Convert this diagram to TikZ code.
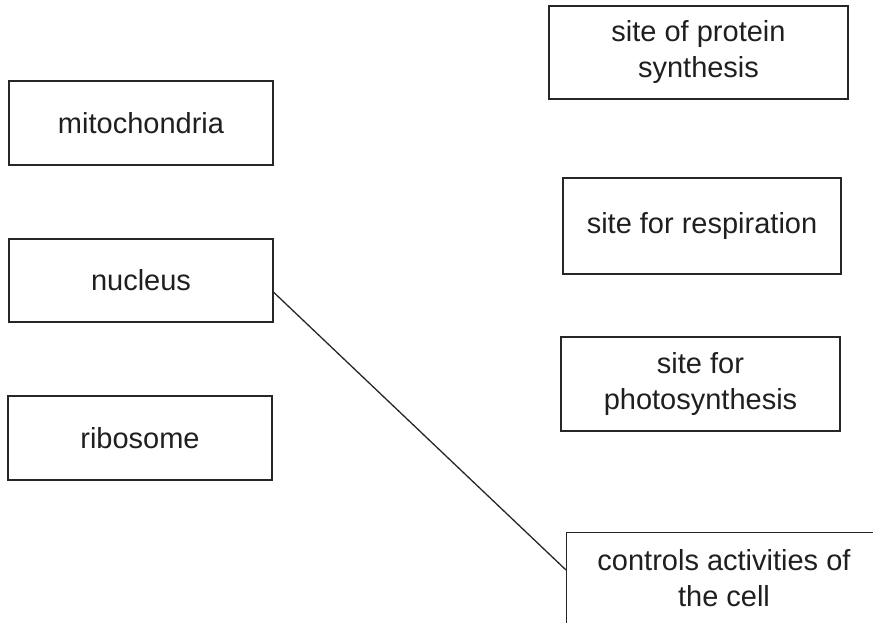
\documentclass[tikz,border=0pt]{standalone}
\usepackage{fontspec}
\setmainfont{Liberation Sans}
\usetikzlibrary{calc}
\begin{document}
\begin{tikzpicture}[x=1pt,y=-1pt,
  box/.style={draw=black!85,line width=1.4pt,inner sep=0pt,align=center,
    font=\fontsize{29}{36}\selectfont,text=black!88},
  link/.style={draw=black!85,line width=1.3pt}]
\useasboundingbox (0,0) rectangle (873,623);
\clip (0,0) rectangle (873,623);
% terms on the left
\node[box,minimum width=264pt,minimum height=84pt] (mito) at (141,123) {mitochondria};
\node[box,minimum width=264pt,minimum height=83pt] (nuc) at (141,280.5) {nucleus};
\node[box,minimum width=264pt,minimum height=84pt] (ribo) at (140,438) {ribosome};
% descriptions on the right
\node[box,minimum width=299pt,minimum height=93pt] (prot) at (698.5,52.5) {site of protein\\synthesis};
\node[box,minimum width=278pt,minimum height=96pt] (resp) at (702,226) {site for respiration};
\node[box,minimum width=279pt,minimum height=94pt] (photo) at (700.5,384) {site for\\photosynthesis};
\node[box,minimum width=340pt,minimum height=150pt,anchor=north west] (ctrl) at (566,532) {};
\node[box,draw=none,anchor=north] (ctrltext) at (724,549) {controls activities of\\the cell};
% the one drawn link
\coordinate (from) at ($(nuc.north east)!0.64!(nuc.south east)$);
\coordinate (to) at (ctrl.north west |- 0,570);
\draw[link] (from) -- (to);
\end{tikzpicture}
\end{document}
